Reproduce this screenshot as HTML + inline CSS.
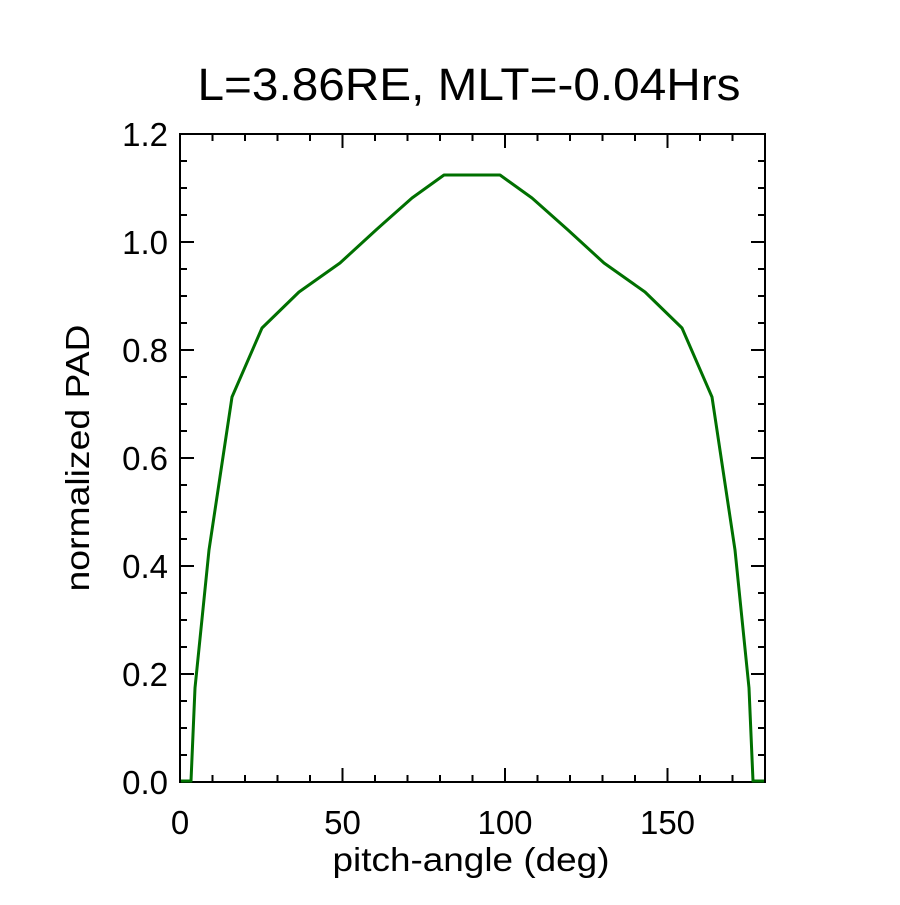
<!DOCTYPE html>
<html><head><style>body{margin:0;background:#fff}</style></head><body>
<svg width="900" height="900" xmlns="http://www.w3.org/2000/svg" font-family="Liberation Sans, sans-serif">
<rect width="900" height="900" fill="#fff"/>
<text x="469" y="100" font-size="45" text-anchor="middle" textLength="543" lengthAdjust="spacingAndGlyphs">L=3.86RE, MLT=-0.04Hrs</text>
<g stroke="#000" stroke-width="2" fill="none">
<rect x="180" y="134" width="585" height="648"/>
</g>
<g stroke="#000" stroke-width="2">
<path d="M180,782v-14M342.5,782v-14M505,782v-14M667.5,782v-14M180,134v14M342.5,134v14M505,134v14M667.5,134v14"/>
<path d="M212.5,782v-7M245,782v-7M277.5,782v-7M310,782v-7M375,782v-7M407.5,782v-7M440,782v-7M472.5,782v-7M537.5,782v-7M570,782v-7M602.5,782v-7M635,782v-7M700,782v-7M732.5,782v-7
M212.5,134v7M245,134v7M277.5,134v7M310,134v7M375,134v7M407.5,134v7M440,134v7M472.5,134v7M537.5,134v7M570,134v7M602.5,134v7M635,134v7M700,134v7M732.5,134v7"/>
<path d="M180,782h14M180,674h14M180,566h14M180,458h14M180,350h14M180,242h14M180,134h14M765,782h-14M765,674h-14M765,566h-14M765,458h-14M765,350h-14M765,242h-14"/>
<path d="M180,755h7M180,728h7M180,701h7M180,647h7M180,620h7M180,593h7M180,539h7M180,512h7M180,485h7M180,431h7M180,404h7M180,377h7M180,323h7M180,296h7M180,269h7M180,215h7M180,188h7M180,161h7
M765,755h-7M765,728h-7M765,701h-7M765,647h-7M765,620h-7M765,593h-7M765,539h-7M765,512h-7M765,485h-7M765,431h-7M765,404h-7M765,377h-7M765,323h-7M765,296h-7M765,269h-7M765,215h-7M765,188h-7M765,161h-7"/>
</g>
<polyline fill="none" stroke="#007000" stroke-width="3" stroke-linejoin="round" points="181,781 191,781 195,688 209,550 232,397 262,328 299,292 340,263 376,230 412,198 444,175 500,175 532,198 568,230 604,263 645,292 682,328 712,397 735,550 749,688 753,781 764,781"/>
<g font-size="33" text-anchor="end">
<text x="168" y="794">0.0</text><text x="168" y="686">0.2</text><text x="168" y="578">0.4</text><text x="168" y="470">0.6</text><text x="168" y="362">0.8</text><text x="168" y="254">1.0</text><text x="168" y="146">1.2</text>
</g>
<g font-size="33" text-anchor="middle">
<text x="180" y="834">0</text><text x="342.5" y="834">50</text><text x="505" y="834">100</text><text x="667.5" y="834">150</text>
<text x="471" y="871" textLength="277" lengthAdjust="spacingAndGlyphs">pitch-angle (deg)</text>
<text transform="translate(89,458) rotate(-90)" textLength="267" lengthAdjust="spacingAndGlyphs">normalized PAD</text>
</g>
</svg>
</body></html>
